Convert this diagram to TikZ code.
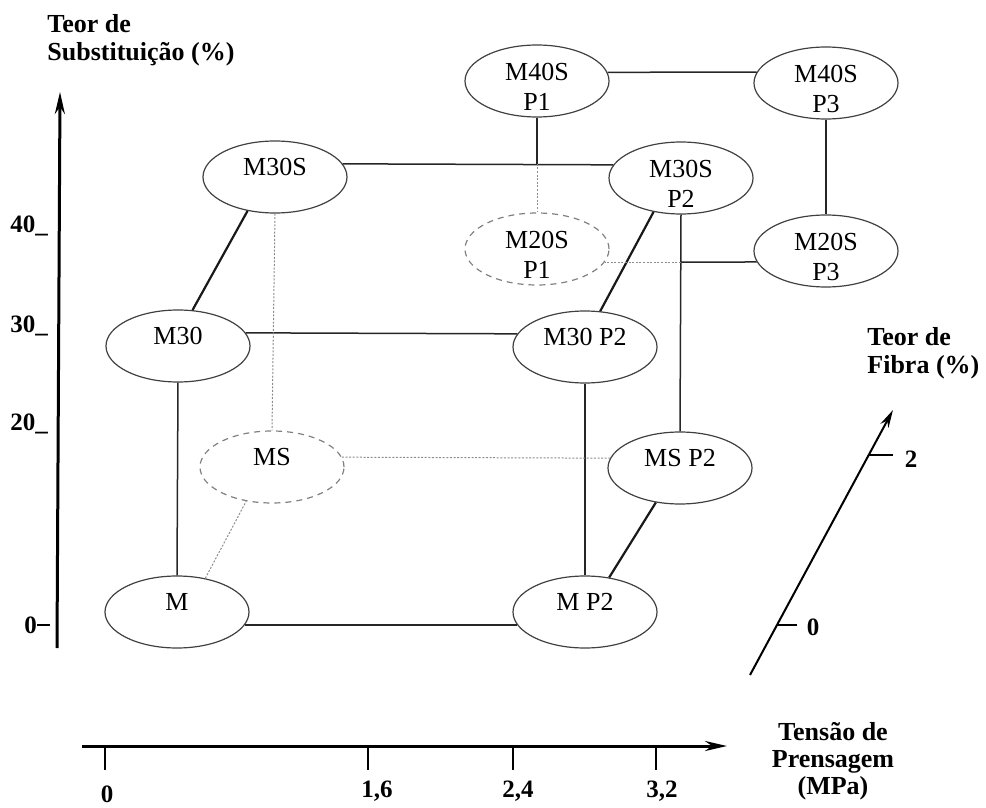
\documentclass[tikz,border=0pt]{standalone}
\usepackage{fontspec}
\setmainfont{Liberation Serif}
\usetikzlibrary{arrows.meta,calc,shapes.geometric}
\begin{document}
\begin{tikzpicture}[x=0.5pt,y=-0.5pt,
  ell/.style={draw=black!75, line width=0.6pt, ellipse, minimum width=72pt, minimum height=36pt, inner sep=0pt},
  hid/.style={ell, draw=black!50, dash pattern=on 3pt off 2.5pt},
  conn/.style={line width=0.75pt, black!85},
  diag/.style={line width=1.1pt, black!90},
  hidden/.style={line width=0.5pt, black!45, dash pattern=on 1pt off 0.8pt},
  one/.style={font=\fontsize{13}{15}\selectfont, yshift=5pt, inner sep=0pt},
  two/.style={font=\fontsize{13}{15}\selectfont, align=center, yshift=-3pt, inner sep=0pt},
  axlbl/.style={font=\fontsize{13}{14}\selectfont\bfseries, align=left, inner sep=0pt},
  ticklbl/.style={font=\fontsize{12.5}{15}\selectfont\bfseries, inner sep=0pt},
  axisline/.style={line width=1.5pt, -{Stealth[length=11pt,width=5pt]}},
  tickline/.style={line width=0.6pt}
]
\useasboundingbox (0,0) rectangle (986,808);

% nodes
\node[ell, label={[two]center:{M40S\\P1}}] (m40p1) at (537,81) {};
\node[ell, label={[two]center:{M40S\\P3}}] (m40p3) at (826,83) {};
\node[ell, label={[two]center:{M30S\\P2}}] (m30sp2) at (681,178) {};
\node[hid, label={[two]center:{M20S\\P1}}] (m20p1) at (537,249) {};
\node[ell, label={[two]center:{M20S\\P3}}] (m20p3) at (826,251) {};
\node[ell, label={[one]center:M30S}] (m30s) at (275,177) {};
\node[ell, label={[one]center:M30}] (m30) at (178,346) {};
\node[ell, label={[one]center:M30 P2}] (m30p2) at (585,347) {};
\node[hid, label={[one]center:MS}] (ms) at (272,467) {};
\node[ell, label={[one]center:MS P2}] (msp2) at (680,468) {};
\node[ell, label={[one]center:M}] (m) at (177,612) {};
\node[ell, label={[one]center:M P2}] (mp2) at (585,612) {};

% junctions
\coordinate (j1) at (m40p1.south |- m30s.11);
\coordinate (j2) at (m30sp2.south |- m20p1.-11);

% solid connectors
\draw[conn] (m40p1.7) -- (m40p3.171);
\draw[conn] (m40p1.south) -- (j1);
\draw[conn] (m40p3.south) -- (m20p3.north);
\draw[conn] (m20p3.189) -- (j2);
\draw[conn] (m30s.11) -- (m30sp2.169);
\draw[conn] (m30sp2.south) -- (msp2.north);
\draw[conn] (m30.11) -- (m30p2.169);
\draw[conn] (m30.south) -- (m.north);
\draw[conn] (m30p2.south) -- (mp2.north);
\draw[conn] (m.-11) -- (mp2.191);
\draw[diag] (m30s.231) -- (m30.68);
\draw[diag] (m30sp2.231) -- (m30p2.67);
\draw[diag] (msp2.235) -- (mp2.55);

% hidden connectors
\draw[hidden] (j1) -- (m20p1.north);
\draw[hidden] (j2) -- (m20p1.-11);
\draw[hidden] (m30s.south) -- (ms.north);
\draw[hidden] (ms.8) -- (msp2.172);
\draw[hidden] (m.50) -- (ms.233);

% vertical axis
\coordinate (ybot) at (57,648);
\coordinate (ytop) at (60,92);
\draw[axisline] (ybot) -- (ytop);
\node[axlbl, anchor=north west] (ylab) at (47,14) {Teor de\\Substituição (\%)};
\node[ticklbl, anchor=base west] (y40) at (10,233) {40\_};
\node[ticklbl, anchor=base west] (y30) at (10,332) {30\_};
\node[ticklbl, anchor=base west] (y20) at (10,430) {20\_};
\node[ticklbl, anchor=base west] (y0) at (24,633) {0};
\coordinate (y0t) at (50,625);
\draw[tickline] (y0.east |- y0t) -- (y0t);

% horizontal axis
\coordinate (xl) at (82,746);
\coordinate (xr) at (727,746);
\draw[axisline] (xl) -- (xr);
\coordinate (xa) at (105,746);
\coordinate (xb) at (368,746);
\coordinate (xc) at (513,746);
\coordinate (xd) at (656,746);
\foreach \p in {xa,xb,xc,xd} \draw[tickline] (\p) -- ++(0,24);
\node[ticklbl, anchor=base] (x0) at (107,802) {0};
\node[ticklbl, anchor=base] (x16) at (377,797) {1,6};
\node[ticklbl, anchor=base] (x24) at (518,797) {2,4};
\node[ticklbl, anchor=base] (x32) at (662,797) {3,2};
\node[axlbl, align=center, anchor=north, font=\fontsize{13}{13.5}\selectfont\bfseries] (xlab) at (833,722) {Tensão de\\Prensagem\\(MPa)};

% fiber axis
\coordinate (fbot) at (750,675);
\coordinate (ftop) at (893,410);
\draw[line width=1pt, -{Stealth[length=9pt,width=4.5pt]}] (fbot) -- (ftop);
\coordinate (f2) at (868.7,455);
\coordinate (f0) at (777,625);
\draw[tickline] (f2) -- ++(24,0);
\draw[tickline] (f0) -- ++(20,0);
\node[ticklbl] (f2l) at (911,459) {2};
\node[ticklbl] (f0l) at (813,627) {0};
\node[axlbl, anchor=north west] (flab) at (867,327) {Teor de\\Fibra (\%)};
\end{tikzpicture}
\end{document}
